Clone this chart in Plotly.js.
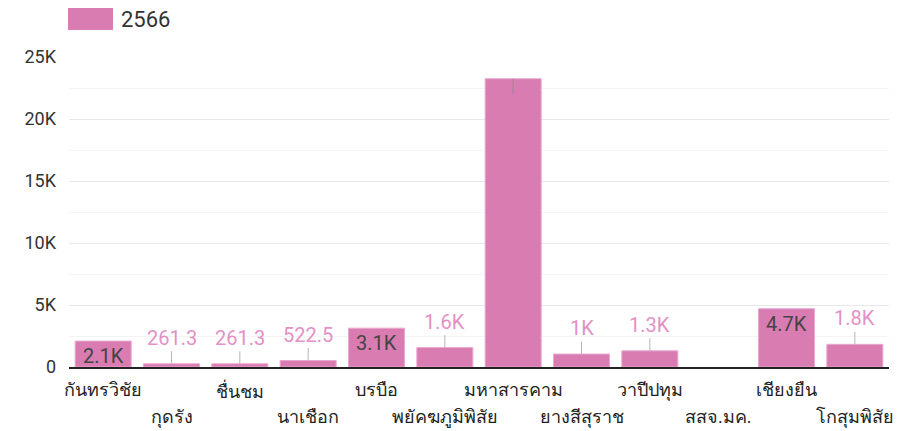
<!DOCTYPE html>
<html>
<head>
<meta charset="utf-8">
<script src="https://cdn.plot.ly/plotly-3.0.1.min.js"></script>
<style>html,body{margin:0;padding:0;background:#fff;}#chart{width:897px;height:431px;}</style>
</head>
<body>
<div id="chart"></div>
<script>
const categories = ['กันทรวิชัย','กุดรัง','ชื่นชม','นาเชือก','บรบือ','พยัคฆภูมิพิสัย','มหาสารคาม','ยางสีสุราช','วาปีปทุม','สสจ.มค.','เชียงยืน','โกสุมพิสัย'];
const values2566 = [2090, 261.3, 261.3, 522.5, 3135, 1567.5, 23251, 1045, 1306.25, null, 4702.5, 1828.75];
const valueLabels = ['2.1K','261.3','261.3','522.5','3.1K','1.6K','23.3K','1K','1.3K','','4.7K','1.8K'];
const seriesName = '2566';
const yTickVals = [0, 5000, 10000, 15000, 20000, 25000];
const yTickText = ['0', '5K', '10K', '15K', '20K', '25K'];

const FONT = 'Roboto, "Noto Sans", "DejaVu Sans", sans-serif';
const BAR = '#d97cb2';
const yMax = 25000;
const plotH = 310;
const insideMin = 2000;
const labelLift = 26;

const annotations = [];
categories.forEach((c, i) => {
  const v = values2566[i];
  if (v === null || v === undefined) return;
  const px = v / yMax * plotH;
  if (px + labelLift + 12 >= plotH) {
    // label overflows the plot: hidden, only its leader line shows
    annotations.push({x: c, y: v, xref: 'x', yref: 'y', text: ' ', showarrow: true, arrowhead: 0,
      arrowwidth: 1.5, arrowcolor: 'rgba(140,140,140,0.6)', ax: 0, ay: labelLift + 2,
      font: {family: FONT, size: 20, color: 'rgba(0,0,0,0)'}});
  } else if (v >= insideMin) {
    annotations.push({x: c, y: v, xref: 'x', yref: 'y', text: valueLabels[i], showarrow: false,
      yanchor: 'top', yshift: -1, font: {family: FONT, size: 20, color: '#444'}});
  } else {
    annotations.push({x: c, y: v, xref: 'x', yref: 'y', text: valueLabels[i], showarrow: true, arrowhead: 0,
      arrowwidth: 1, arrowcolor: '#b5b5b5', ax: 0, ay: -labelLift,
      font: {family: FONT, size: 20, color: '#e391c5'}});
  }
});
categories.forEach((c, i) => {
  annotations.push({x: c, xref: 'x', y: 0, yref: 'paper', yanchor: 'top', showarrow: false,
    yshift: i % 2 === 0 ? -10 : -37, text: c, font: {family: FONT, size: 18, color: '#222'}});
});
annotations.push({x: 0, xref: 'paper', xanchor: 'left', xshift: 50, y: 1, yref: 'paper', yanchor: 'middle', yshift: 38,
  text: seriesName, showarrow: false, font: {family: FONT, size: 22, color: '#333'}});

const trace = {
  type: 'bar', name: seriesName, x: categories, y: values2566,
  marker: {color: BAR, line: {color: '#eba9d0', width: 1}},
  hoverinfo: 'x+y'
};

const layout = {
  width: 897, height: 431,
  margin: {l: 69, r: 8, t: 57, b: 64},
  paper_bgcolor: '#fff', plot_bgcolor: '#fff',
  showlegend: false,
  bargap: 0.18,
  font: {family: FONT, size: 18, color: '#333'},
  xaxis: {automargin: false, range: [-0.5, categories.length - 0.5], showticklabels: false, showgrid: false, zeroline: false,
    showline: true, linecolor: '#222', linewidth: 1.5, ticks: ''},
  yaxis: {automargin: false, range: [0, yMax], tickvals: yTickVals, ticktext: yTickText, showgrid: true, gridcolor: '#e8e8e8',
    zeroline: false, showline: false, ticks: '', ticklabelstandoff: 12,
    tickfont: {family: FONT, size: 18, color: '#333'},
    minor: {dtick: 2500, showgrid: true, gridcolor: '#f4f4f4'}},
  shapes: [{type: 'rect', xref: 'paper', xsizemode: 'pixel', xanchor: 0, x0: -1, x1: 44,
    yref: 'paper', ysizemode: 'pixel', yanchor: 1, y0: 27, y1: 49,
    fillcolor: BAR, line: {width: 0}}],
  annotations: annotations
};

Plotly.newPlot('chart', [trace], layout, {displayModeBar: false, staticPlot: true});
</script>
</body>
</html>
